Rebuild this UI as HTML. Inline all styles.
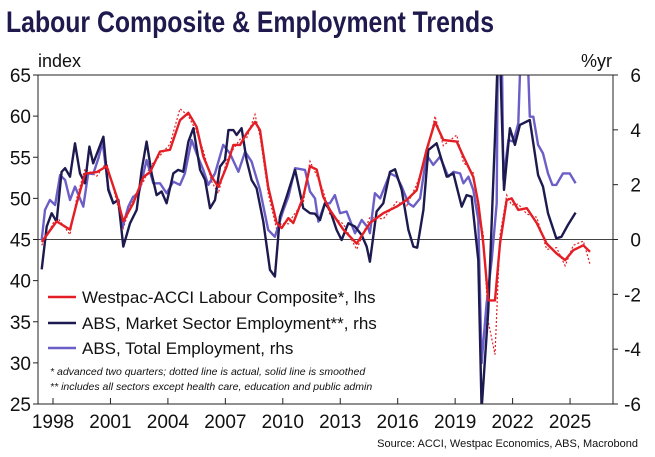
<!DOCTYPE html>
<html><head><meta charset="utf-8"><style>
body{margin:0;background:#fff}
svg{display:block;font-family:"Liberation Sans",sans-serif}
</style></head><body>
<svg id="chart" width="655" height="457" viewBox="0 0 655 457">
<defs><clipPath id="pc"><rect x="38" y="75" width="575" height="329"/></clipPath></defs>
<text x="6" y="32" font-family="'Liberation Sans Narrow','Liberation Sans',sans-serif" font-weight="bold" font-size="30" fill="#1f1a4d" textLength="488" lengthAdjust="spacingAndGlyphs">Labour Composite &amp; Employment Trends</text>
<text x="38" y="67" font-size="18" fill="#111">index</text>
<text x="612" y="67" font-size="18" fill="#111" text-anchor="end">%yr</text>
<g id="axes"></g>
<g id="series" clip-path="url(#pc)"></g>
<rect x="38" y="75" width="575" height="329" fill="none" stroke="#222" stroke-width="1"/>
<g>
<line x1="48" y1="297" x2="76" y2="297" stroke="#e31e24" stroke-width="2.5"/>
<text x="82" y="303" font-size="17" fill="#111">Westpac-ACCI Labour Composite*, lhs</text>
<line x1="48" y1="323" x2="76" y2="323" stroke="#1c1a4e" stroke-width="2.5"/>
<text x="82" y="329" font-size="17" fill="#111">ABS, Market Sector Employment**, rhs</text>
<line x1="48" y1="348" x2="76" y2="348" stroke="#6b5fc7" stroke-width="2.5"/>
<text x="82" y="354" font-size="17" fill="#111">ABS, Total Employment, rhs</text>
<text x="50" y="375" font-size="10.5" font-style="italic" fill="#111">* advanced two quarters; dotted line is actual, solid line is smoothed</text>
<text x="50" y="390" font-size="10.5" font-style="italic" fill="#111">** includes all sectors except health care, education and public admin</text>
</g>
<text x="638" y="447" font-size="11" fill="#111" text-anchor="end">Source: ACCI, Westpac Economics, ABS, Macrobond</text>
</svg>
<script>
const leftTicks=[25,30,35,40,45,50,55,60,65];
const rightTicks=[-6,-4,-2,0,2,4,6];
const yearTicks=[1998,2001,2004,2007,2010,2013,2016,2019,2022,2025];
const redYears=[1997.41,1998.19,1998.89,1999.24,1999.67,2000.28,2000.80,2001.33,2001.67,2002.19,2002.72,2003.07,2003.59,2004.11,2004.63,2005.07,2005.50,2005.85,2006.29,2006.63,2007.07,2007.42,2007.77,2008.11,2008.55,2008.81,2009.24,2009.68,2009.94,2010.29,2010.55,2011.07,2011.42,2011.77,2012.11,2012.46,2013.16,2013.86,2014.55,2015.25,2015.95,2016.47,2016.99,2017.51,2017.95,2018.38,2019.08,2019.43,2019.95,2020.21,2020.47,2020.73,2021.08,2021.34,2021.69,2021.95,2022.30,2022.74,2023.26,2023.78,2024.30,2024.74,2025.17,2025.69,2026.04];
const redSmooth=[44.7,47.2,46.2,49.4,53.0,53.2,53.9,50.2,47.2,49.4,52.6,53.2,55.7,55.9,59.5,60.4,58.7,55.1,52.6,51.4,53.9,56.5,56.5,57.9,59.3,58.3,51.4,47.0,46.4,47.6,47.0,50.2,53.9,53.5,50.2,48.6,46.2,44.5,47.0,48.2,49.0,49.8,51.0,55.9,59.3,57.1,56.9,55.1,52.6,49.4,44.5,37.6,37.6,44.5,49.8,50.0,48.6,48.8,47.0,44.5,43.3,42.5,43.7,44.3,43.5];
const redActual=[44.3,47.8,45.6,50.0,53.6,52.7,54.4,49.6,46.4,50.1,52.0,53.9,55.2,56.6,60.9,60.0,58.1,55.8,52.0,50.6,54.6,56.0,57.2,57.3,60.2,57.6,50.6,46.2,47.0,46.9,47.9,49.5,54.5,52.8,50.9,48.0,46.9,43.8,47.7,47.5,49.6,49.1,51.7,55.2,60.0,56.4,57.7,54.4,53.1,48.6,45.6,35.0,31.0,45.5,50.4,49.2,49.3,48.1,47.7,43.8,44.0,41.8,44.3,44.8,42.0];
const navyYears=[1997.41,1997.67,1997.93,1998.19,1998.45,1998.63,1998.89,1999.15,1999.41,1999.67,1999.90,2000.10,2000.63,2000.89,2001.15,2001.41,2001.67,2002.02,2002.37,2002.63,2002.89,2003.15,2003.41,2003.67,2003.93,2004.28,2004.54,2004.80,2005.07,2005.33,2005.68,2005.94,2006.20,2006.46,2006.72,2006.98,2007.16,2007.42,2007.59,2007.85,2008.11,2008.37,2008.63,2008.98,2009.33,2009.59,2009.85,2010.20,2010.64,2011.07,2011.42,2011.68,2011.94,2012.20,2012.46,2012.81,2013.07,2013.42,2013.77,2014.12,2014.38,2014.55,2014.90,2015.25,2015.60,2015.86,2016.21,2016.56,2016.82,2017.02,2017.34,2017.60,2018.03,2018.56,2018.91,2019.34,2019.60,2019.86,2020.21,2020.38,2020.73,2021.08,2021.29,2021.55,2021.86,2022.12,2022.38,2022.90,2023.33,2023.59,2023.85,2024.28,2024.55,2024.89,2025.29];
const navyVals=[-1.09,0.47,0.96,0.65,2.47,2.60,2.29,3.51,2.41,2.05,3.39,2.78,3.75,1.81,1.32,1.44,-0.26,0.59,1.08,2.54,3.57,2.41,1.62,1.75,1.32,2.41,2.54,2.47,3.57,4.06,2.54,2.17,1.14,1.44,2.66,2.90,3.99,3.99,3.81,4.06,2.90,2.17,1.87,0.65,-1.11,-1.35,0.83,1.56,2.54,1.14,0.96,0.94,0.71,1.32,1.08,0.35,-0.02,0.59,0.47,0.16,-0.26,-0.81,1.02,1.32,2.47,2.56,1.81,0.35,-0.26,-0.30,1.08,3.26,3.51,2.29,2.41,1.20,1.62,1.56,-0.75,-6.2,-2.57,3.75,8.0,1.81,4.06,3.45,4.18,4.36,2.35,1.93,0.96,0.04,0.10,0.53,0.98];
const purpleYears=[1997.41,1997.58,1997.84,1998.11,1998.37,1998.63,1998.89,1999.15,1999.58,1999.84,2000.10,2000.37,2000.59,2000.89,2001.15,2001.41,2001.64,2001.93,2002.19,2002.46,2002.89,2003.24,2003.59,2003.93,2004.28,2004.63,2004.89,2005.24,2005.50,2005.85,2006.11,2006.46,2006.89,2007.24,2007.68,2008.03,2008.37,2008.81,2009.24,2009.59,2010.03,2010.29,2010.64,2011.16,2011.42,2011.68,2011.86,2012.20,2012.46,2012.72,2012.99,2013.33,2013.77,2014.12,2014.47,2014.55,2014.81,2015.08,2015.60,2015.95,2016.21,2016.56,2016.82,2017.17,2017.51,2017.86,2018.21,2018.64,2018.91,2019.26,2019.43,2019.69,2019.95,2020.21,2020.38,2020.64,2020.91,2021.17,2021.25,2021.40,2021.52,2021.78,2022.04,2022.30,2022.50,2022.70,2022.90,2023.08,2023.33,2023.59,2023.85,2024.08,2024.28,2024.63,2024.98,2025.29];
const purpleVals=[-0.02,1.08,1.44,1.26,2.35,2.17,1.44,1.93,1.20,2.41,2.39,2.96,3.57,1.87,1.32,1.44,0.47,1.20,1.56,1.62,2.90,2.05,2.05,1.69,2.11,1.99,2.41,3.63,3.14,2.54,1.99,2.41,3.45,3.14,2.47,3.20,2.84,1.81,0.35,0.10,1.08,1.56,2.60,2.54,1.75,1.50,0.65,1.32,1.32,1.62,0.96,1.02,0.23,0.71,0.41,0.23,1.69,1.50,2.41,2.29,1.93,1.32,1.20,1.50,3.08,2.72,3.02,2.29,2.47,2.41,2.05,2.29,1.81,0.71,-4.51,-2.33,-0.75,1.32,9.0,9.0,2.17,3.63,3.57,4.24,8.5,8.5,4.48,4.48,3.45,3.14,2.41,1.99,1.99,2.41,2.41,2.05];

const X0=38,X1=613,Y0=75,Y1=404;
function xs(t){return 53+(t-1998)*19.15;}
function yl(v){return Y1-(v-25)/40*(Y1-Y0);}
function yr(v){return Y1-(v+6)/12*(Y1-Y0);}
const NS='http://www.w3.org/2000/svg';
const axes=document.getElementById('axes'),series=document.getElementById('series');
function mk(tag,attrs,parent){const e=document.createElementNS(NS,tag);for(const k in attrs)e.setAttribute(k,attrs[k]);parent.appendChild(e);return e;}
leftTicks.forEach(v=>{
  mk('line',{x1:X0-5,x2:X0,y1:yl(v),y2:yl(v),stroke:'#222'},axes);
  const t=mk('text',{x:31,y:yl(v)+7,'text-anchor':'end','font-size':19,fill:'#111'},axes);
  t.textContent=v;
  
  
});
rightTicks.forEach(v=>{
  mk('line',{x1:X1,x2:X1+5,y1:yr(v),y2:yr(v),stroke:'#222'},axes);
  const t=mk('text',{x:641,y:yr(v)+7,'text-anchor':'end','font-size':19,fill:'#111'},axes);
  t.textContent=v;
  
  
});
yearTicks.forEach(y=>{
  mk('line',{x1:xs(y),x2:xs(y),y1:Y1-6,y2:Y1,stroke:'#222'},axes);
  const t=mk('text',{x:xs(y),y:428,'text-anchor':'middle','font-size':19,fill:'#111'},axes);
  t.textContent=y;
  
  
});
const zl=mk('line',{x1:X0,x2:X1,y1:yr(0),y2:yr(0),stroke:'#444','stroke-width':1},axes);


function path(years,vals,yf){return years.map((t,i)=>(i?'L':'M')+xs(t).toFixed(1)+','+yf(vals[i]).toFixed(1)).join('');}
const p1=mk('path',{d:path(redYears,redActual,yl),fill:'none',stroke:'#e31e24','stroke-width':1.2,'stroke-dasharray':'2,2'},series);


const p2=mk('path',{d:path(purpleYears,purpleVals,yr),fill:'none',stroke:'#6b5fc7','stroke-width':2.4,'stroke-linejoin':'round'},series);


const p3=mk('path',{d:path(navyYears,navyVals,yr),fill:'none',stroke:'#1c1a4e','stroke-width':2.4,'stroke-linejoin':'round'},series);


const p4=mk('path',{d:path(redYears,redSmooth,yl),fill:'none',stroke:'#e31e24','stroke-width':2.4,'stroke-linejoin':'round'},series);


</script>
</body></html>
